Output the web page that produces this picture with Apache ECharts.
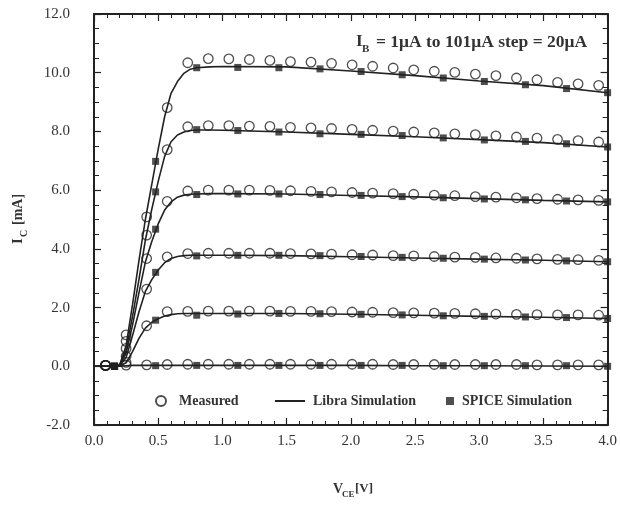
<!DOCTYPE html>
<html>
<head>
<meta charset="utf-8">
<script src="https://cdn.jsdelivr.net/npm/echarts@6/dist/echarts.min.js"></script>
<style>
  html, body { margin: 0; padding: 0; background: #fff; }
  #main { width: 620px; height: 507px; }
</style>
</head>
<body>
<div id="main"></div>
<script>
// V_CE sample points of the Libra simulation lines
var vLibra = [0, 0.1, 0.2, 0.25, 0.3, 0.35, 0.4, 0.45, 0.5, 0.55, 0.6, 0.65, 0.7, 0.75, 0.8, 0.9, 1.0, 1.5, 2.0, 2.5, 3.0, 3.5, 4.0];
var libra101 = [0, 0, 0.05, 0.7, 2.1, 3.6, 5.0, 6.2, 7.4, 8.5, 9.3, 9.7, 9.98, 10.12, 10.17, 10.2, 10.21, 10.2, 10.06, 9.9, 9.72, 9.56, 9.32];
var libra81 = [0, 0, 0.04, 0.55, 1.7, 2.95, 4.3, 5.35, 6.3, 7.15, 7.65, 7.88, 7.98, 8.03, 8.05, 8.05, 8.04, 7.98, 7.9, 7.82, 7.72, 7.62, 7.47];
var libra61 = [0, 0, 0.03, 0.45, 1.4, 2.5, 3.55, 4.25, 4.85, 5.32, 5.6, 5.76, 5.83, 5.86, 5.87, 5.88, 5.88, 5.87, 5.82, 5.77, 5.71, 5.65, 5.6];
var libra41 = [0, 0, 0.02, 0.3, 1.05, 1.85, 2.55, 2.95, 3.28, 3.53, 3.67, 3.74, 3.77, 3.78, 3.78, 3.78, 3.78, 3.77, 3.73, 3.69, 3.65, 3.61, 3.56];
var libra21 = [0, 0, 0.01, 0.12, 0.5, 0.95, 1.3, 1.5, 1.62, 1.71, 1.76, 1.79, 1.8, 1.8, 1.8, 1.8, 1.8, 1.8, 1.77, 1.74, 1.7, 1.67, 1.63];
var libra1 = [0, 0, 0, 0.02, 0.03, 0.03, 0.03, 0.03, 0.03, 0.03, 0.03, 0.03, 0.03, 0.03, 0.03, 0.03, 0.03, 0.03, 0.03, 0.02, 0.02, 0.01, 0.0];

// measured points (circles)
var vMeas = [0.09, 0.25, 0.41, 0.57, 0.73, 0.89, 1.05, 1.21, 1.37, 1.53, 1.69, 1.85, 2.01, 2.17, 2.33, 2.49, 2.65, 2.81, 2.97, 3.13, 3.29, 3.45, 3.61, 3.77, 3.93];
var meas101 = [0.03, 1.07, 5.09, 8.81, 10.34, 10.48, 10.47, 10.45, 10.42, 10.38, 10.36, 10.32, 10.27, 10.22, 10.16, 10.1, 10.05, 10.01, 9.95, 9.9, 9.82, 9.76, 9.67, 9.62, 9.57];
var meas81 = [0.03, 0.85, 4.47, 7.38, 8.16, 8.2, 8.2, 8.18, 8.17, 8.14, 8.12, 8.1, 8.07, 8.04, 8.01, 7.98, 7.95, 7.92, 7.89, 7.85, 7.81, 7.77, 7.73, 7.69, 7.64];
var meas61 = [0.03, 0.61, 3.67, 5.62, 5.97, 6.0, 6.0, 6.0, 5.99, 5.98, 5.96, 5.94, 5.92, 5.9, 5.88, 5.86, 5.83, 5.81, 5.78, 5.76, 5.74, 5.71, 5.69, 5.67, 5.65];
var meas41 = [0.03, 0.34, 2.63, 3.73, 3.84, 3.85, 3.85, 3.85, 3.85, 3.84, 3.83, 3.82, 3.8, 3.79, 3.77, 3.76, 3.74, 3.72, 3.71, 3.69, 3.68, 3.66, 3.64, 3.63, 3.61];
var meas21 = [0.03, 0.13, 1.38, 1.86, 1.87, 1.88, 1.88, 1.88, 1.88, 1.87, 1.87, 1.86, 1.85, 1.84, 1.83, 1.82, 1.81, 1.8, 1.79, 1.78, 1.77, 1.76, 1.75, 1.75, 1.74];
var meas1 = [0.03, 0.04, 0.05, 0.06, 0.07, 0.07, 0.07, 0.07, 0.07, 0.07, 0.07, 0.07, 0.07, 0.07, 0.06, 0.06, 0.06, 0.06, 0.06, 0.06, 0.06, 0.05, 0.05, 0.05, 0.05];

// SPICE points (squares)
var vSpice = [0.16, 0.48, 0.80, 1.12, 1.44, 1.76, 2.08, 2.40, 2.72, 3.04, 3.36, 3.68, 4.00];
var spice101 = [0, 6.98, 10.17, 10.18, 10.17, 10.13, 10.04, 9.93, 9.82, 9.70, 9.59, 9.46, 9.32];
var spice81 = [0, 5.94, 8.06, 8.03, 7.98, 7.92, 7.9, 7.86, 7.78, 7.71, 7.66, 7.58, 7.47];
var spice61 = [0, 4.67, 5.85, 5.87, 5.87, 5.85, 5.82, 5.78, 5.74, 5.7, 5.67, 5.63, 5.6];
var spice41 = [0, 3.2, 3.76, 3.78, 3.78, 3.77, 3.74, 3.71, 3.68, 3.65, 3.62, 3.59, 3.56];
var spice21 = [0, 1.57, 1.74, 1.78, 1.8, 1.79, 1.77, 1.75, 1.72, 1.7, 1.68, 1.66, 1.63];
var spice1 = [0, 0.02, 0.03, 0.03, 0.03, 0.03, 0.03, 0.03, 0.02, 0.02, 0.02, 0.02, 0.0];

var xTicks = [0, 4];       // V_CE range
var yTicks = [-2, 12];     // I_C range

var ink = '#222';
var serif = '"Liberation Serif", "DejaVu Serif", serif';

function pairs(xs, ys) {
    var out = [];
    for (var i = 0; i < xs.length; i++) out.push([xs[i], ys[i]]);
    return out;
}

var libraSets = [libra1, libra21, libra41, libra61, libra81, libra101];
var measSets = [meas1, meas21, meas41, meas61, meas81, meas101];
var spiceSets = [spice1, spice21, spice41, spice61, spice81, spice101];

var series = [];
libraSets.forEach(function (ys) {
    series.push({
        name: 'Libra Simulation', type: 'line', data: pairs(vLibra, ys),
        symbol: 'none', color: ink, lineStyle: { color: ink, width: 1.6 }, z: 2,
        animation: false
    });
});
spiceSets.forEach(function (ys) {
    series.push({
        name: 'SPICE Simulation', type: 'scatter', data: pairs(vSpice, ys),
        symbol: 'rect', symbolSize: 7, itemStyle: { color: ink }, z: 3,
        animation: false
    });
});
measSets.forEach(function (ys) {
    series.push({
        name: 'Measured', type: 'scatter', data: pairs(vMeas, ys),
        symbol: 'circle', symbolSize: 9.5,
        itemStyle: { color: 'rgba(255,255,255,0)', borderColor: ink, borderWidth: 1.3 }, z: 4,
        animation: false
    });
});

function xAxisCfg(pos, labels) {
    return {
        type: 'value', position: pos, min: xTicks[0], max: xTicks[1], interval: 0.5,
        axisLine: { show: true, onZero: false, lineStyle: { color: ink, width: 2 } },
        axisTick: { show: true, inside: true, length: 7, lineStyle: { color: ink, width: 1.2 } },
        minorTick: { show: true, splitNumber: 5, length: 4, lineStyle: { color: ink, width: 1 } },
        splitLine: { show: false },
        axisLabel: {
            show: labels, margin: 9, fontFamily: serif, fontSize: 15, color: '#333',
            formatter: function (v) { return v.toFixed(1); }
        }
    };
}
function yAxisCfg(pos, labels) {
    return {
        type: 'value', position: pos, min: yTicks[0], max: yTicks[1], interval: 2,
        axisLine: { show: true, onZero: false, lineStyle: { color: ink, width: 2 } },
        axisTick: { show: true, inside: true, length: 7, lineStyle: { color: ink, width: 1.2 } },
        minorTick: { show: true, splitNumber: 4, length: 5, lineStyle: { color: ink, width: 1 } },
        splitLine: { show: false },
        axisLabel: {
            show: labels, margin: 24, fontFamily: serif, fontSize: 15, color: '#333',
            formatter: function (v) { return v.toFixed(1); }
        }
    };
}

var legendText = { fontFamily: serif, fontSize: 14, fontWeight: 'bold', color: '#333' };

var chart = echarts.init(document.getElementById('main'));
chart.setOption({
    backgroundColor: '#fff',
    animation: false,
    grid: { left: 94, right: 8, top: 14, bottom: 82 },
    xAxis: [xAxisCfg('bottom', true), xAxisCfg('top', false)],
    yAxis: [yAxisCfg('left', true), yAxisCfg('right', false)],
    legend: [
        { data: ['Measured'], left: 155, top: 394, padding: 0, itemWidth: 20, itemHeight: 10,
          textStyle: Object.assign({ padding: [0, 0, 0, 3] }, legendText) },
        { data: ['Libra Simulation'], left: 275, top: 394, padding: 0, itemWidth: 30, itemHeight: 2, icon: 'rect',
          textStyle: Object.assign({ padding: [0, 0, 0, 3] }, legendText) },
        { data: ['SPICE Simulation'], left: 446, top: 394, padding: 0, itemWidth: 8, itemHeight: 8,
          textStyle: Object.assign({ padding: [0, 0, 0, 3] }, legendText) }
    ],
    graphic: [
        // I_B annotation
        { type: 'text', left: 356, top: 33, style: { text: 'I', font: 'bold 17px ' + serif, fill: '#333' } },
        { type: 'text', left: 362, top: 44, style: { text: 'B', font: 'bold 11px ' + serif, fill: '#333' } },
        { type: 'text', left: 376, top: 33, style: { text: '= 1\u03bcA to 101\u03bcA step = 20\u03bcA', font: 'bold 17.5px ' + serif, fill: '#333' } },
        // V_CE axis title
        { type: 'text', left: 333, top: 482, style: { text: 'V', font: 'bold 14px ' + serif, fill: '#333' } },
        { type: 'text', left: 342, top: 490, style: { text: 'CE', font: 'bold 9px ' + serif, fill: '#333' } },
        { type: 'text', left: 355, top: 482, style: { text: '[V]', font: 'bold 13px ' + serif, fill: '#333' } },
        // I_C axis title (rotated)
        { type: 'group', x: 18, y: 218, rotation: Math.PI / 2, children: [
            { type: 'text', x: -26, y: 0, style: { text: 'I', font: 'bold 15px ' + serif, fill: '#333', textAlign: 'left', textVerticalAlign: 'middle' } },
            { type: 'text', x: -19, y: 6, style: { text: 'C', font: 'bold 10px ' + serif, fill: '#333', textAlign: 'left', textVerticalAlign: 'middle' } },
            { type: 'text', x: -7, y: 0, style: { text: '[mA]', font: 'bold 14px ' + serif, fill: '#333', textAlign: 'left', textVerticalAlign: 'middle' } }
        ] }
    ],
    series: series
});
</script>
</body>
</html>
